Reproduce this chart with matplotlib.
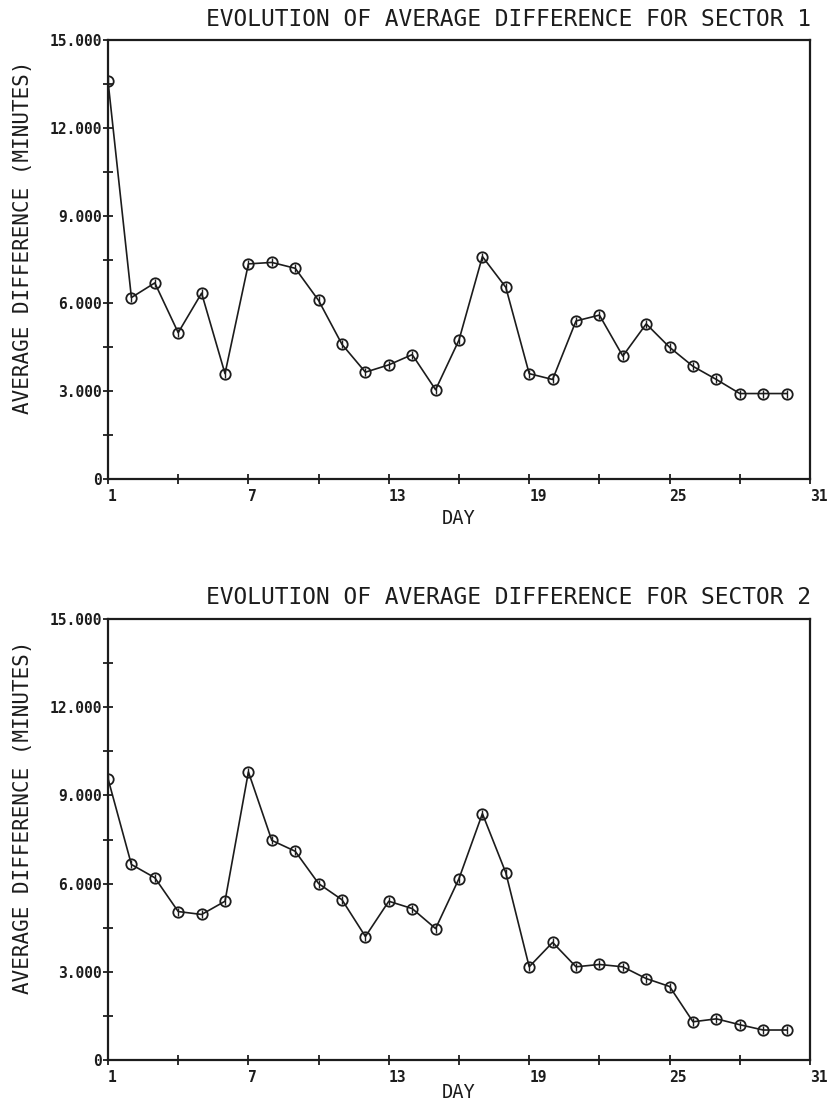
import matplotlib
matplotlib.use("Agg")
import matplotlib.pyplot as plt
from matplotlib.transforms import ScaledTranslation

# daily averages, days 1..30
days = list(range(1, 31))
sector1 = [13.6, 6.2, 6.7, 5.0, 6.35, 3.6, 7.35, 7.4, 7.2, 6.1,
           4.6, 3.65, 3.9, 4.25, 3.05, 4.75, 7.6, 6.55, 3.6, 3.4,
           5.4, 5.6, 4.2, 5.3, 4.5, 3.85, 3.4, 2.92, 2.92, 2.92]
sector2 = [9.57, 6.65, 6.2, 5.05, 4.95, 5.4, 9.8, 7.47, 7.1, 6.0,
           5.45, 4.2, 5.4, 5.15, 4.47, 6.17, 8.38, 6.37, 3.17, 4.0,
           3.17, 3.25, 3.17, 2.77, 2.5, 1.3, 1.4, 1.2, 1.02, 1.02]

xticks = [1, 7, 13, 19, 25, 31]
xticks_minor = [4, 10, 16, 22, 28]
yticks = [0, 3, 6, 9, 12, 15]
yticks_minor = [1.5, 4.5, 7.5, 10.5, 13.5]
ylabels = ["0", "3.000", "6.000", "9.000", "12.000", "15.000"]

titles = ["EVOLUTION OF AVERAGE DIFFERENCE FOR SECTOR 1",
          "EVOLUTION OF AVERAGE DIFFERENCE FOR SECTOR 2"]

ink = "#1c1c1c"
mono = "DejaVu Sans Mono"

fig = plt.figure(figsize=(8.31, 11.06), dpi=100)
W, H = 831, 1106

# (top, bottom, gap to DAY label) of each plot box in pixels
boxes = [(40, 479, 30), (619, 1060, 23)]
series = [sector1, sector2]

for (top, bot, gap), vals, title in zip(boxes, series, titles):
    ax = fig.add_axes([108 / W, 1 - bot / H, 702 / W, (bot - top) / H])
    ax.plot(days, vals, color=ink, lw=1.2, marker="o", ms=7.5,
            mfc="none", mec=ink, mew=1.3, zorder=3)
    ax.plot(days, vals, ls="none", marker="|", ms=6, mec=ink,
            mew=1.0, zorder=4)

    ax.set_xlim(1, 31)
    ax.set_ylim(0, 15)
    ax.set_xticks(xticks)
    ax.set_xticks(xticks_minor, minor=True)
    ax.set_yticks(yticks)
    ax.set_yticks(yticks_minor, minor=True)
    ax.set_yticklabels(ylabels, family=mono, fontweight="bold",
                       fontsize=10.5, color=ink)
    ax.set_xticklabels([str(t) for t in xticks], family=mono,
                       fontweight="bold", fontsize=10.5, color=ink, ha="left")
    shift = ScaledTranslation(3 / 100, 0, fig.dpi_scale_trans)
    for lab in ax.get_xticklabels():
        lab.set_transform(lab.get_transform() + shift)

    ax.tick_params(axis="both", which="both", direction="inout",
                   length=7, width=1.3, color=ink)
    ax.tick_params(axis="y", which="major", pad=1)
    ax.tick_params(axis="x", which="major", pad=4)
    for s in ax.spines.values():
        s.set_linewidth(1.6)
        s.set_color(ink)

    ax.set_xlabel("DAY", family=mono, fontsize=13.5, color=ink)
    ax.xaxis.set_label_coords(0.5, -gap / (bot - top))
    ax.set_ylabel("AVERAGE DIFFERENCE (MINUTES)", family=mono,
                  fontsize=15, color=ink)
    ax.yaxis.set_label_coords(-75 / 702, 0.551)

    fig.text(811 / W, 1 - (top - 21) / H, title, family=mono, fontsize=16.5,
             color=ink, ha="right", va="center")

fig.savefig("out.png", dpi=100)
